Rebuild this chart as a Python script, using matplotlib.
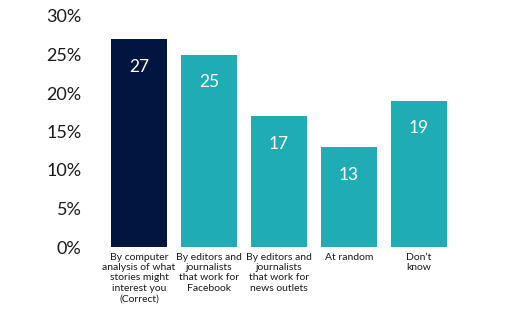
import matplotlib.pyplot as plt
import matplotlib.ticker as ticker

categories = [
    "By computer\nanalysis of what\nstories might\ninterest you\n(Correct)",
    "By editors and\njournalists\nthat work for\nFacebook",
    "By editors and\njournalists\nthat work for\nnews outlets",
    "At random",
    "Don\u2019t\nknow",
]
values = [27, 25, 17, 13, 19]
colors = ["#021440", "#20acb4", "#20acb4", "#20acb4", "#20acb4"]
yticks = [0, 5, 10, 15, 20, 25, 30]


def create_plot(output_file="out.png"):
    plt.rcParams["font.family"] = ["Lato", "DejaVu Sans"]

    fig = plt.figure(figsize=(5.08, 3.11), dpi=100)
    ax = fig.add_axes([97 / 508, 64 / 311, (461 - 97) / 508, (247 - 16) / 311])

    x = list(range(len(values)))
    bars = ax.bar(x, values, width=0.8, color=colors)

    # value labels inside the bars
    for bar, v in zip(bars, values):
        ax.annotate(
            f"{v}",
            (bar.get_x() + bar.get_width() / 2, v),
            xytext=(0, -20),
            textcoords="offset points",
            ha="center",
            va="center",
            color="white",
            fontsize=12.5,
        )

    ax.set_xlim(-0.6, 4.6)
    ax.set_ylim(0, 30)
    ax.set_yticks(yticks)
    ax.yaxis.set_major_formatter(ticker.FuncFormatter(lambda v, p: f"{int(v)}%"))
    ax.tick_params(axis="y", length=0, pad=11, labelsize=13, labelcolor="#1a1a1a")

    ax.set_xticks(x)
    ax.set_xticklabels(categories, fontsize=7.5, linespacing=1.2, color="#1a1a1a")
    ax.tick_params(axis="x", length=0, pad=4)

    for s in ax.spines.values():
        s.set_visible(False)

    fig.savefig(output_file, dpi=100)
    plt.close(fig)


if __name__ == "__main__":
    create_plot()
